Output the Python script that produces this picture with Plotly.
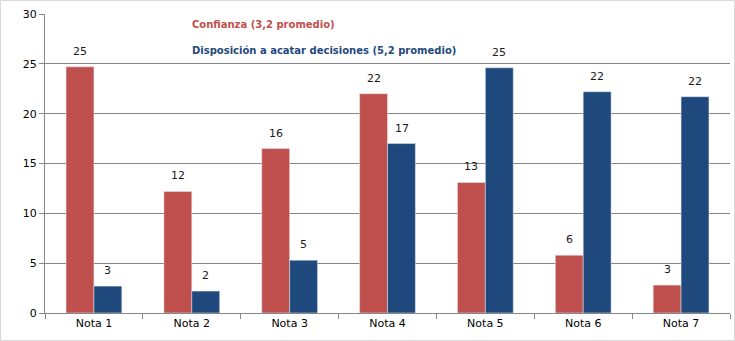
import plotly.graph_objects as go

categories = ["Nota 1", "Nota 2", "Nota 3", "Nota 4", "Nota 5", "Nota 6", "Nota 7"]
confianza = [24.7, 12.2, 16.5, 22.0, 13.1, 5.8, 2.8]
disposicion = [2.7, 2.2, 5.3, 17.0, 24.6, 22.2, 21.7]
confianza_labels = ["25", "12", "16", "22", "13", "6", "3"]
disposicion_labels = ["3", "2", "5", "17", "25", "22", "22"]
series_names = ["Confianza (3,2 promedio)", "Disposición a acatar decisiones (5,2 promedio)"]
y_ticks = [0, 5, 10, 15, 20, 25, 30]

RED = "#C0504D"
BLUE = "#1F497D"
FONT = "DejaVu Sans"

fig = go.Figure()
fig.add_trace(go.Bar(x=categories, y=confianza, name=series_names[0], marker_color=RED))
fig.add_trace(go.Bar(x=categories, y=disposicion, name=series_names[1], marker_color=BLUE))

# data labels above bars
for vals, labels, shift in [(confianza, confianza_labels, -14), (disposicion, disposicion_labels, 14)]:
    for c, v, t in zip(categories, vals, labels):
        fig.add_annotation(x=c, y=v, xref="x", yref="y", text=t, showarrow=False,
                           xshift=shift, yshift=7, yanchor="bottom", xanchor="center",
                           font=dict(family=FONT, size=11, color="#1a1a1a"))

fig.update_layout(
    width=735, height=341,
    margin=dict(l=45, r=5, t=14, b=28),
    barmode="group", bargap=0.43, bargroupgap=0,
    plot_bgcolor="white", paper_bgcolor="white",
    showlegend=False,
    font=dict(family=FONT, size=11, color="#000000"),
)
fig.update_yaxes(range=[0, 30], tickvals=y_ticks, showgrid=True, gridcolor="#868686", gridwidth=1,
                 showline=True, linecolor="#868686", ticks="outside", ticklen=5, tickcolor="#868686",
                 zeroline=False, tickfont=dict(family=FONT, size=11))
fig.update_xaxes(showline=True, linecolor="#868686", ticks="outside", ticklen=5, tickcolor="#868686",
                 tickson="boundaries", tickfont=dict(family=FONT, size=11))

fig.add_annotation(xref="paper", yref="paper", x=(190 - 45) / 685, y=(313 - 25) / 299,
                   xanchor="left", yanchor="middle", showarrow=False,
                   text="<b>" + series_names[0] + "</b>",
                   font=dict(family=FONT, size=10, color=RED))
fig.add_annotation(xref="paper", yref="paper", x=(190 - 45) / 685, y=(313 - 50) / 299,
                   xanchor="left", yanchor="middle", showarrow=False,
                   text="<b>" + series_names[1] + "</b>",
                   font=dict(family=FONT, size=10, color=BLUE))

# faint chart-area border
fig.add_shape(type="rect", xref="paper", yref="paper",
              x0=-44.5 / 685, x1=1 + 4.5 / 685, y0=-27.5 / 299, y1=1 + 13.5 / 299,
              line=dict(color="#D9D9D9", width=1), fillcolor="rgba(0,0,0,0)", layer="below")

fig.write_html("out.html")
